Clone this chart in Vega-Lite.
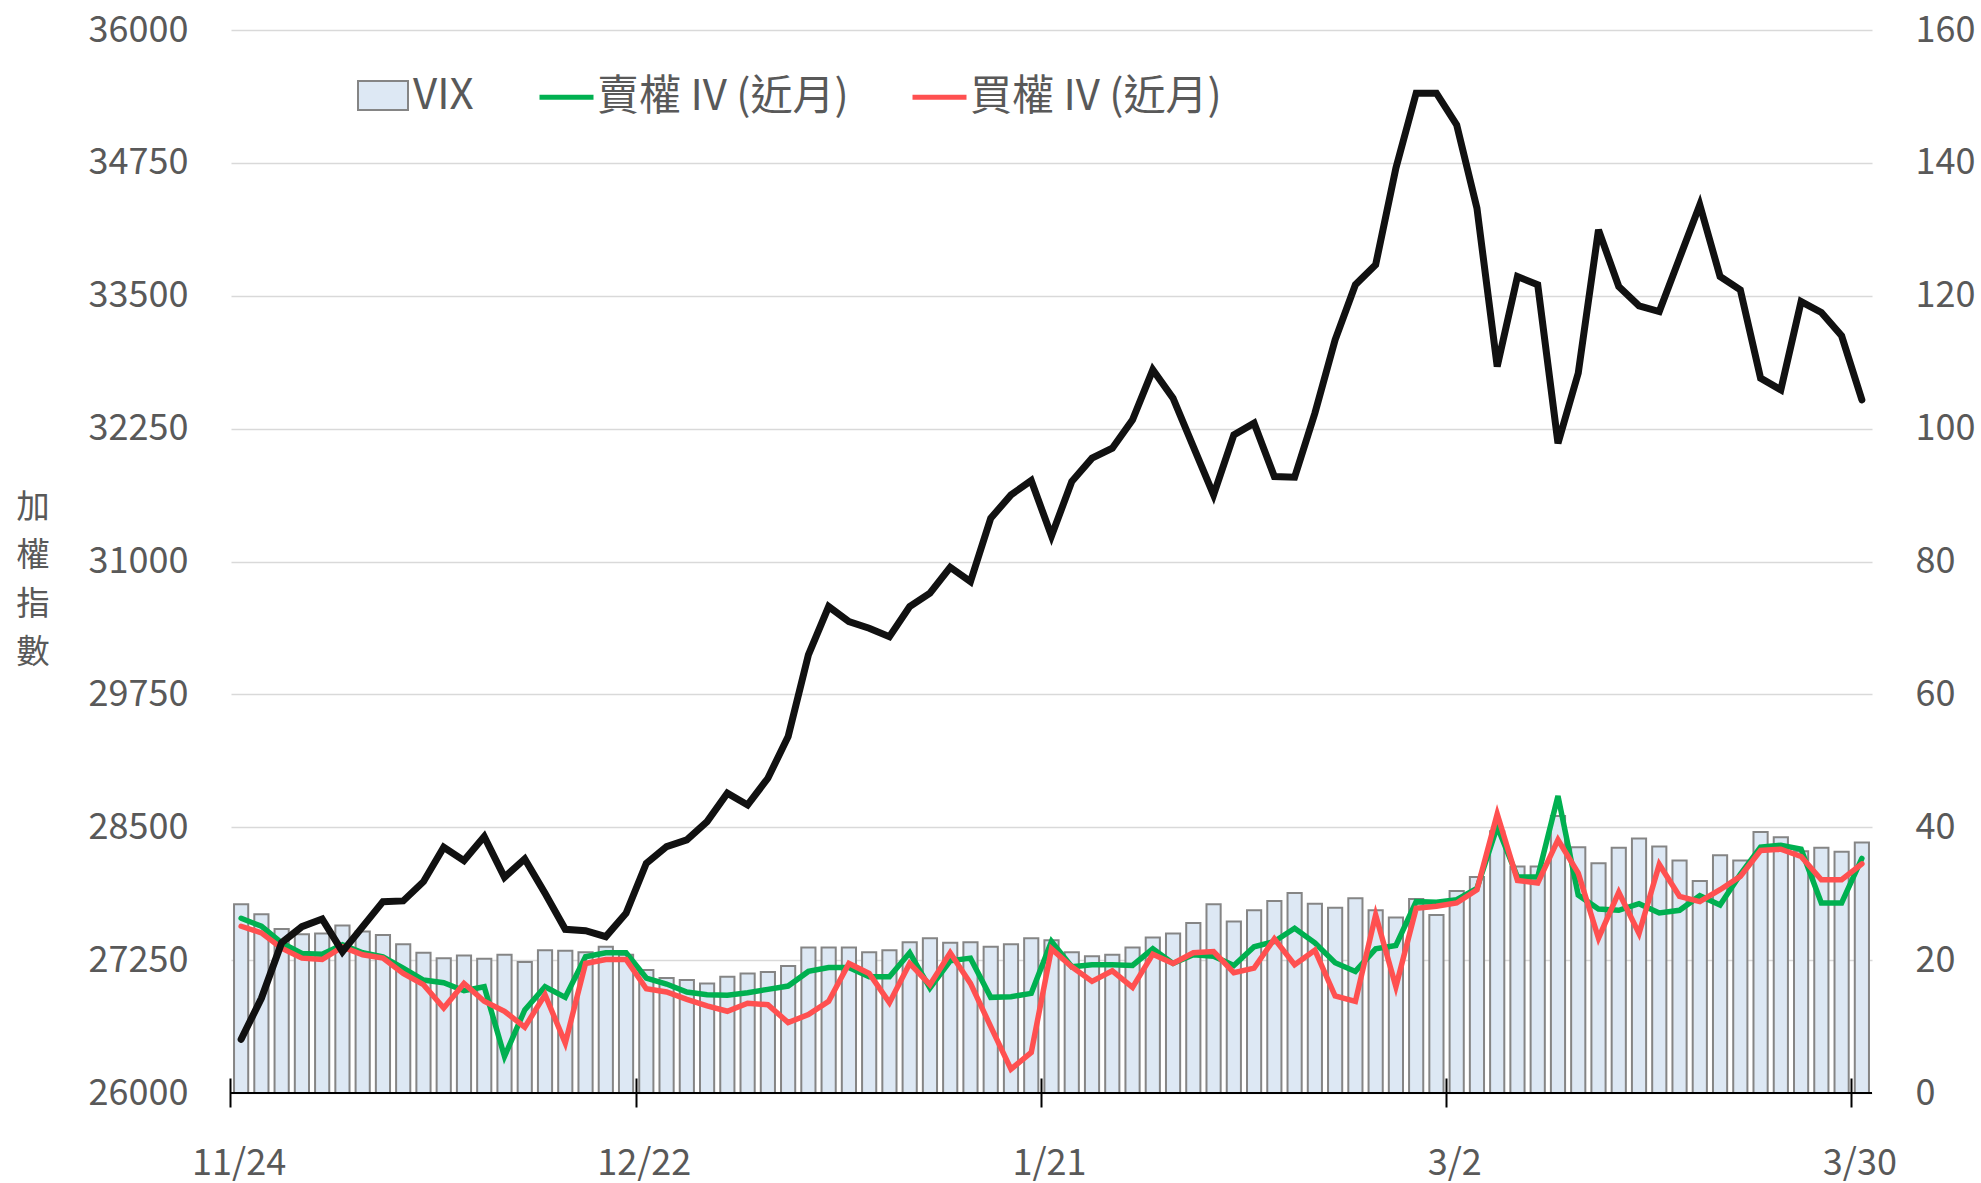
{
"$schema": "https://vega.github.io/schema/vega-lite/v6.json",
"width": 1641, "height": 1063,
"autosize": {"type": "none"},
"padding": {"left": 231, "top": 30, "right": 109, "bottom": 90},
"background": "white",
"config": {"view": {"stroke": null}, "font": "Noto Sans CJK TC"},
"data": {"values": [
{"d":"11/24","t":26505,"v":28.4,"p":26.3,"c":25.1},
{"d":"11/25","t":26891,"v":26.9,"p":25.1,"c":24.1},
{"d":"11/26","t":27414,"v":24.7,"p":22.6,"c":21.8},
{"d":"11/27","t":27565,"v":23.9,"p":21.0,"c":20.3},
{"d":"11/28","t":27637,"v":24.0,"p":20.9,"c":20.1},
{"d":"12/1","t":27330,"v":25.2,"p":22.3,"c":22.0},
{"d":"12/2","t":27565,"v":24.3,"p":21.1,"c":20.8},
{"d":"12/3","t":27800,"v":23.8,"p":20.5,"c":20.3},
{"d":"12/4","t":27807,"v":22.4,"p":18.8,"c":18.0},
{"d":"12/5","t":27988,"v":21.1,"p":17.0,"c":16.3},
{"d":"12/8","t":28312,"v":20.3,"p":16.6,"c":12.8},
{"d":"12/9","t":28186,"v":20.7,"p":15.4,"c":16.5},
{"d":"12/10","t":28412,"v":20.2,"p":16.0,"c":13.8},
{"d":"12/11","t":28030,"v":20.8,"p":5.5,"c":12.3},
{"d":"12/12","t":28202,"v":19.7,"p":12.5,"c":9.9},
{"d":"12/15","t":27879,"v":21.5,"p":16.0,"c":14.8},
{"d":"12/16","t":27540,"v":21.4,"p":14.4,"c":7.5},
{"d":"12/17","t":27527,"v":21.2,"p":20.5,"c":19.5},
{"d":"12/18","t":27471,"v":22.0,"p":21.1,"c":20.1},
{"d":"12/19","t":27691,"v":20.8,"p":21.1,"c":20.1},
{"d":"12/22","t":28161,"v":18.5,"p":17.3,"c":15.7},
{"d":"12/23","t":28318,"v":17.3,"p":16.4,"c":15.2},
{"d":"12/24","t":28381,"v":17.0,"p":15.2,"c":14.1},
{"d":"12/26","t":28553,"v":16.5,"p":14.8,"c":13.1},
{"d":"12/29","t":28820,"v":17.5,"p":14.7,"c":12.3},
{"d":"12/30","t":28710,"v":18.0,"p":15.1,"c":13.5},
{"d":"12/31","t":28961,"v":18.2,"p":15.6,"c":13.3},
{"d":"1/2","t":29353,"v":19.1,"p":16.1,"c":10.6},
{"d":"1/5","t":30121,"v":21.9,"p":18.3,"c":11.8},
{"d":"1/6","t":30576,"v":21.9,"p":18.9,"c":13.8},
{"d":"1/7","t":30435,"v":21.9,"p":18.9,"c":19.5},
{"d":"1/8","t":30372,"v":21.2,"p":17.5,"c":18.0},
{"d":"1/9","t":30293,"v":21.5,"p":17.5,"c":13.6},
{"d":"1/12","t":30576,"v":22.7,"p":21.1,"c":19.5},
{"d":"1/13","t":30702,"v":23.3,"p":15.8,"c":16.3},
{"d":"1/14","t":30946,"v":22.6,"p":19.9,"c":21.1},
{"d":"1/15","t":30811,"v":22.7,"p":20.3,"c":16.5},
{"d":"1/16","t":31407,"v":22.0,"p":14.4,"c":10.0},
{"d":"1/19","t":31627,"v":22.4,"p":14.5,"c":3.6},
{"d":"1/20","t":31761,"v":23.3,"p":15.0,"c":6.1},
{"d":"1/21","t":31240,"v":23.0,"p":22.8,"c":21.7},
{"d":"1/22","t":31752,"v":21.2,"p":19.0,"c":19.0},
{"d":"1/23","t":31972,"v":20.6,"p":19.3,"c":16.8},
{"d":"1/26","t":32066,"v":20.8,"p":19.3,"c":18.4},
{"d":"1/27","t":32332,"v":21.9,"p":19.2,"c":15.9},
{"d":"1/28","t":32803,"v":23.4,"p":21.7,"c":20.9},
{"d":"1/29","t":32536,"v":24.0,"p":19.5,"c":19.5},
{"d":"1/30","t":32081,"v":25.6,"p":20.8,"c":21.1},
{"d":"2/2","t":31627,"v":28.4,"p":20.6,"c":21.3},
{"d":"2/3","t":32191,"v":25.8,"p":19.2,"c":18.1},
{"d":"2/4","t":32301,"v":27.5,"p":22.0,"c":18.8},
{"d":"2/5","t":31799,"v":28.9,"p":22.8,"c":23.2},
{"d":"2/6","t":31793,"v":30.1,"p":24.8,"c":19.3},
{"d":"2/9","t":32395,"v":28.5,"p":22.6,"c":21.5},
{"d":"2/10","t":33085,"v":27.9,"p":19.6,"c":14.6},
{"d":"2/11","t":33603,"v":29.3,"p":18.3,"c":13.8},
{"d":"2/23","t":33791,"v":27.5,"p":21.7,"c":26.8},
{"d":"2/24","t":34701,"v":26.4,"p":22.2,"c":16.0},
{"d":"2/25","t":35406,"v":29.2,"p":28.8,"c":27.8},
{"d":"2/26","t":35406,"v":26.8,"p":28.7,"c":28.1},
{"d":"3/2","t":35108,"v":30.4,"p":29.1,"c":28.6},
{"d":"3/3","t":34324,"v":32.5,"p":30.8,"c":30.6},
{"d":"3/4","t":32834,"v":39.4,"p":40.1,"c":42.0},
{"d":"3/5","t":33681,"v":34.1,"p":32.5,"c":32.0},
{"d":"3/6","t":33603,"v":34.1,"p":32.5,"c":31.6},
{"d":"3/9","t":32113,"v":41.7,"p":44.7,"c":38.1},
{"d":"3/10","t":32772,"v":37.0,"p":29.8,"c":33.1},
{"d":"3/11","t":34120,"v":34.6,"p":27.7,"c":23.3},
{"d":"3/12","t":33587,"v":36.9,"p":27.5,"c":30.2},
{"d":"3/13","t":33405,"v":38.3,"p":28.5,"c":24.0},
{"d":"3/16","t":33351,"v":37.1,"p":27.1,"c":34.4},
{"d":"3/17","t":33854,"v":35.0,"p":27.5,"c":29.6},
{"d":"3/18","t":34355,"v":31.9,"p":29.7,"c":28.8},
{"d":"3/19","t":33681,"v":35.8,"p":28.3,"c":30.6},
{"d":"3/20","t":33556,"v":35.0,"p":32.9,"c":32.6},
{"d":"3/23","t":32725,"v":39.3,"p":37.0,"c":36.5},
{"d":"3/24","t":32615,"v":38.5,"p":37.3,"c":36.7},
{"d":"3/25","t":33445,"v":36.4,"p":36.7,"c":35.6},
{"d":"3/26","t":33342,"v":36.9,"p":28.6,"c":32.1},
{"d":"3/27","t":33123,"v":36.3,"p":28.6,"c":32.1},
{"d":"3/30","t":32521,"v":37.7,"p":35.3,"c":34.5}
]},
"layer": [
 {"layer": [
  {"mark": {"type": "bar", "stroke": "#858585", "strokeWidth": 2},
   "encoding": {
    "x": {"field": "d", "type": "ordinal", "sort": null,
          "scale": {"type": "band", "paddingInner": 0.3, "paddingOuter": 0.15},
          "axis": {"values": ["11/24","12/22","1/21","3/2","3/30"], "bandPosition": -0.2143, "labelOffset": -2,
                   "offset": -15, "tickSize": 29, "tickColor": "#000000", "tickWidth": 2, "domain": false,
                   "labelPadding": 39, "labelFontSize": 36, "labelColor": "#595959", "labelAngle": 0,
                   "labelOverlap": false, "labelBound": false, "title": null, "grid": false, "zindex": 1}},
    "y": {"field": "v", "type": "quantitative",
          "scale": {"domain": [0, 160], "nice": false, "zero": true},
          "axis": {"orient": "right", "values": [0,20,40,60,80,100,120,140,160], "grid": false, "domain": false,
                   "ticks": false, "tickSize": 0, "labelPadding": 43, "labelFontSize": 36, "labelColor": "#595959", "title": null}},
    "fill": {"datum": "VIX", "scale": {"domain": ["VIX"], "range": ["#dde8f4"]},
             "legend": {"orient": "none", "legendX": 126, "legendY": 39.5, "title": null, "padding": 0,
                        "symbolType": "M-1,-0.58H1V0.58H-1Z", "symbolSize": 2500, "symbolStrokeColor": "#858585",
                        "symbolStrokeWidth": 2, "symbolFillColor": "#dde8f4", "labelFontSize": 42, "labelColor": "#595959",
                        "labelOffset": 4, "labelLimit": 0}}
   }},
  {"mark": {"type": "line", "strokeWidth": 5.5, "strokeCap": "round"},
   "encoding": {
    "x": {"field": "d", "type": "ordinal", "sort": null,
          "axis": {"values": ["11/24","12/22","1/21","3/2","3/30"], "bandPosition": -0.2143, "labelOffset": -2,
                   "offset": -15, "tickSize": 29, "tickColor": "#000000", "tickWidth": 2, "domain": false,
                   "labelPadding": 39, "labelFontSize": 36, "labelColor": "#595959", "labelAngle": 0,
                   "labelOverlap": false, "labelBound": false, "title": null, "grid": false, "zindex": 1}},
    "y": {"field": "p", "type": "quantitative",
          "axis": {"orient": "right", "values": [0,20,40,60,80,100,120,140,160], "grid": false, "domain": false,
                   "ticks": false, "tickSize": 0, "labelPadding": 43, "labelFontSize": 36, "labelColor": "#595959", "title": null}},
    "color": {"datum": "賣權 IV (近月)",
              "scale": {"domain": ["賣權 IV (近月)", "買權 IV (近月)"], "range": ["#00b050", "#ff5050"]},
              "legend": {"orient": "none", "legendX": 306, "legendY": 37.5, "title": null, "padding": 0,
                         "direction": "horizontal", "symbolType": "stroke", "symbolSize": 2916, "symbolStrokeWidth": 5,
                         "labelFontSize": 42, "labelColor": "#595959", "labelOffset": 1, "labelLimit": 0, "columnPadding": 53}}
   }},
  {"mark": {"type": "line", "strokeWidth": 5.5, "strokeCap": "round"},
   "encoding": {
    "x": {"field": "d", "type": "ordinal", "sort": null,
          "axis": {"values": ["11/24","12/22","1/21","3/2","3/30"], "bandPosition": -0.2143, "labelOffset": -2,
                   "offset": -15, "tickSize": 29, "tickColor": "#000000", "tickWidth": 2, "domain": false,
                   "labelPadding": 39, "labelFontSize": 36, "labelColor": "#595959", "labelAngle": 0,
                   "labelOverlap": false, "labelBound": false, "title": null, "grid": false, "zindex": 1}},
    "y": {"field": "c", "type": "quantitative",
          "axis": {"orient": "right", "values": [0,20,40,60,80,100,120,140,160], "grid": false, "domain": false,
                   "ticks": false, "tickSize": 0, "labelPadding": 43, "labelFontSize": 36, "labelColor": "#595959", "title": null}},
    "color": {"datum": "買權 IV (近月)"}
   }}
 ]},
 {"layer": [
  {"mark": {"type": "line", "stroke": "#111111", "strokeWidth": 7, "strokeCap": "round"},
   "encoding": {
    "x": {"field": "d", "type": "ordinal", "sort": null,
          "axis": {"values": ["11/24","12/22","1/21","3/2","3/30"], "bandPosition": -0.2143, "labelOffset": -2,
                   "offset": -15, "tickSize": 29, "tickColor": "#000000", "tickWidth": 2, "domain": false,
                   "labelPadding": 39, "labelFontSize": 36, "labelColor": "#595959", "labelAngle": 0,
                   "labelOverlap": false, "labelBound": false, "title": null, "grid": false, "zindex": 1}},
    "y": {"field": "t", "type": "quantitative",
          "scale": {"domain": [26000, 36000], "nice": false, "zero": false},
          "axis": {"orient": "left", "values": [26000,27250,28500,29750,31000,32250,33500,34750,36000], "format": "d",
                   "grid": true, "gridColor": "#d9d9d9", "gridWidth": 1.5, "domain": false, "ticks": false, "tickSize": 0,
                   "labelPadding": 43, "labelFontSize": 36, "labelColor": "#595959",
                   "title": ["加","權","指","數"], "titleAngle": 0, "titleAlign": "center", "titleBaseline": "top",
                   "titleX": -198.5, "titleY": 461, "titleFontSize": 33.5, "titleLineHeight": 48.5,
                   "titleColor": "#595959", "titleFontWeight": "normal"}}
   }},
  {"mark": {"type": "rule", "color": "#000000", "strokeWidth": 2},
   "encoding": {"y": {"datum": 26000, "type": "quantitative",
          "axis": {"orient": "left", "values": [26000,27250,28500,29750,31000,32250,33500,34750,36000], "format": "d",
                   "grid": true, "gridColor": "#d9d9d9", "gridWidth": 1.5, "domain": false, "ticks": false, "tickSize": 0,
                   "labelPadding": 43, "labelFontSize": 36, "labelColor": "#595959",
                   "title": ["加","權","指","數"], "titleAngle": 0, "titleAlign": "center", "titleBaseline": "top",
                   "titleX": -198.5, "titleY": 461, "titleFontSize": 33.5, "titleLineHeight": 48.5,
                   "titleColor": "#595959", "titleFontWeight": "normal"}}}}
 ]}
],
"resolve": {"scale": {"y": "independent"}}
}
